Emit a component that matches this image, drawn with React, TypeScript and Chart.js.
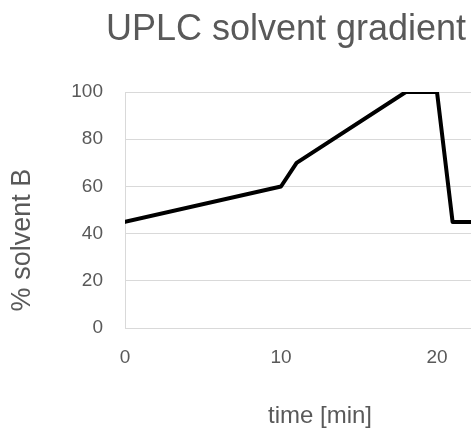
import React, { useEffect, useRef } from "react";
import { Chart, registerables } from "chart.js";

Chart.register(...registerables);

// ---- data ----
const timeMin = [0, 10, 11, 18, 20, 21, 25];
const solventB = [45, 60, 70, 100, 100, 45, 45];
const xTickValues = [0, 10, 20];
const yTickValues = [0, 20, 40, 60, 80, 100];
const chartTitle = "UPLC solvent gradient";
const xAxisTitle = "time [min]";
const yAxisTitle = "% solvent B";

const FONT = "'Liberation Sans', Arial, Helvetica, sans-serif";
const TEXT = "#595959";
const GRID = "#d9d9d9";

const yTitlePlugin = {
  id: "yTitleOffset",
  afterDraw(chart: any) {
    const { ctx, chartArea } = chart;
    ctx.save();
    ctx.font = `27px ${FONT}`;
    ctx.fillStyle = TEXT;
    ctx.textAlign = "center";
    ctx.textBaseline = "middle";
    ctx.translate(23, (chartArea.top + chartArea.bottom) / 2 + 30);
    ctx.rotate(-Math.PI / 2);
    ctx.fillText(yAxisTitle, 0, 0);
    ctx.restore();
  },
};

export default function App() {
  const ref = useRef<HTMLCanvasElement | null>(null);

  useEffect(() => {
    if (!ref.current) return;
    const points = timeMin.map((t, i) => ({ x: t, y: solventB[i] }));
    const chart = new Chart(ref.current, {
      type: "line",
      data: {
        datasets: [
          {
            data: points,
            borderColor: "#000000",
            borderWidth: 4,
            borderJoinStyle: "round",
            borderCapStyle: "round",
            pointRadius: 0,
            tension: 0,
            fill: false,
          },
        ],
      },
      options: {
        animation: false,
        responsive: false,
        maintainAspectRatio: false,
        layout: { padding: { left: 57, right: 57, top: 0, bottom: 0 } },
        plugins: {
          legend: { display: false },
          tooltip: { enabled: false },
          title: {
            display: true,
            text: chartTitle,
            color: TEXT,
            font: { family: FONT, size: 36, weight: "normal", lineHeight: 1 },
            padding: { top: 12.5, bottom: 43.5 },
          },
        },
        scales: {
          x: {
            type: "linear",
            min: 0,
            max: 25,
            afterBuildTicks: (axis: any) => {
              axis.ticks = xTickValues.map((v) => ({ value: v }));
            },
            grid: { display: false, drawTicks: false },
            border: { display: true, color: GRID, width: 1 },
            ticks: {
              color: TEXT,
              padding: 18,
              font: { family: FONT, size: 19 },
              maxRotation: 0,
            },
            title: {
              display: true,
              text: xAxisTitle,
              color: TEXT,
              font: { family: FONT, size: 24, lineHeight: 1 },
              padding: { top: 17, bottom: 0 },
            },
          },
          y: {
            type: "linear",
            min: 0,
            max: 100,
            afterBuildTicks: (axis: any) => {
              axis.ticks = yTickValues.map((v) => ({ value: v }));
            },
            afterFit: (axis: any) => {
              axis.width = 68;
            },
            grid: { color: GRID, lineWidth: 1, drawTicks: false },
            border: { display: true, color: GRID, width: 1 },
            ticks: {
              color: TEXT,
              padding: 22,
              font: { family: FONT, size: 19 },
            },
          },
        },
      },
      plugins: [yTitlePlugin],
    });
    return () => chart.destroy();
  }, []);

  return (
    <div
      style={{
        position: "absolute",
        left: 0,
        top: 0,
        width: 471,
        height: 428,
        overflow: "hidden",
        background: "#ffffff",
      }}
    >
      <canvas ref={ref} width={572} height={428} style={{ display: "block" }} />
    </div>
  );
}
